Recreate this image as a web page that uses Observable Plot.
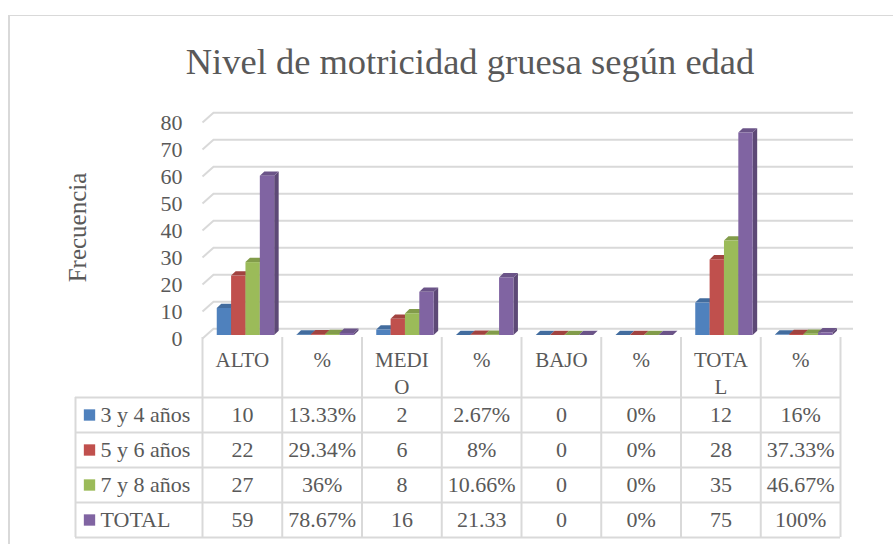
<!DOCTYPE html>
<html><head><meta charset="utf-8">
<script src="https://cdn.jsdelivr.net/npm/d3@7"></script>
<script src="https://cdn.jsdelivr.net/npm/@observablehq/plot@0.6"></script>
<style>
body{margin:0;background:#fff;}
#wrap{position:relative;width:893px;height:544px;overflow:hidden;font-family:"Liberation Serif",serif;color:#595959;background:#fff;}
#frame{position:absolute;left:8px;top:15px;width:1000px;height:1000px;border-left:2px solid #d9d9d9;border-top:1px solid #d9d9d9;}
#title{position:absolute;left:0;width:940px;text-align:center;top:44px;font-size:36.5px;line-height:1;white-space:nowrap;}
#chart{position:absolute;left:0;top:0;}
#table{position:absolute;left:0;top:336px;}
svg{overflow:visible;}
</style></head><body>
<div id="wrap"><div id="frame"></div><div id="title">Nivel de motricidad gruesa según edad</div><div id="chart"></div><div id="table"></div></div>
<script>
// ---- data ----
const categories = ["ALTO", "%", "MEDIO", "%", "BAJO", "%", "TOTAL", "%"];
const categoryLabels = ["ALTO", "%", "MEDI\nO", "%", "BAJO", "%", "TOTA\nL", "%"];
const seriesNames = ["3 y 4 años", "5 y 6 años", "7 y 8 años", "TOTAL"];
const seriesColors = ["#4F81BD", "#C0504D", "#9BBB59", "#8064A2"];
const s34   = [10, 0.1333, 2, 0.0267, 0, 0, 12, 0.16];
const s56   = [22, 0.2934, 6, 0.08, 0, 0, 28, 0.3733];
const s78   = [27, 0.36, 8, 0.1066, 0, 0, 35, 0.4667];
const sTot  = [59, 0.7867, 16, 21.33, 0, 0, 75, 1];
const yTicks = [0, 10, 20, 30, 40, 50, 60, 70, 80];

const series = [s34, s56, s78, sTot];
const FONT = "Liberation Serif";
const GRID = "#d9d9d9";
const TXT = "#595959";

// geometry constants (in scale units)
const PX_X = 638 / 8;          // px per x unit
const PX_Y = 216 / 80;         // px per y unit
const BAR_W = 0.18, BAR_OFF = 0.185;
const DX = 4.5 / PX_X, DY = 4.3 / PX_Y;
const WALL_X = 11 / PX_X;

// ---- derived mark data ----
const fronts = [], faces = [];
categories.forEach((c, i) => {
  series.forEach((s, j) => {
    const v = s[i];
    const x0 = i + BAR_OFF + j * BAR_W, x1 = x0 + BAR_W;
    const base = d3.color(seriesColors[j]);
    fronts.push({x0, x1, v, fill: seriesColors[j]});
    const side = base.darker(0.9).formatHex(), top = base.darker(0.5).formatHex();
    const id = i + "-" + j;
    faces.push({id: "s" + id, x: x1, y1: 0, y2: v, fill: side});
    faces.push({id: "s" + id, x: x1 + DX, y1: DY, y2: v + DY, fill: side});
    faces.push({id: "t" + id, x: x0, y1: v, y2: v, fill: top});
    faces.push({id: "t" + id, x: x0 + DX, y1: v, y2: v + DY, fill: top});
    faces.push({id: "t" + id, x: x1, y1: v, y2: v + DY, fill: top});
    faces.push({id: "t" + id, x: x1 + DX, y1: v + DY, y2: v + DY, fill: top});
  });
});

const chart = Plot.plot({
  width: 893, height: 345,
  marginLeft: 202, marginRight: 53, marginTop: 119, marginBottom: 10,
  x: {domain: [0, 8], axis: null},
  y: {domain: [0, 80], axis: null},
  color: {type: "identity"},
  style: {fontFamily: FONT, color: TXT, background: "transparent", overflow: "visible"},
  marks: [
    Plot.ruleY(yTicks, {x1: WALL_X, x2: 8 + 13 / PX_X, dy: -6.7, stroke: GRID, strokeWidth: 2}),
    Plot.link(yTicks, {x1: 0, x2: WALL_X, y1: d => d, y2: d => d + 9.7 / PX_Y, dy: 3, stroke: GRID, strokeWidth: 2}),
    Plot.area(faces, {x1: "x", y1: "y1", y2: "y2", z: "id", fill: "fill"}),
    Plot.rect(fronts, {x1: "x0", x2: "x1", y1: 0, y2: "v", fill: "fill"}),
    Plot.axisY(yTicks, {tickSize: 0, tickPadding: 20, dy: 3, fontSize: 22, fontFamily: FONT, fill: TXT, label: null}),
    Plot.text(["Frecuencia"], {frameAnchor: "left", textAnchor: "middle", dx: -125, rotate: -90, fontSize: 25, fontFamily: FONT, fill: TXT})
  ]
});
document.getElementById("chart").append(chart);

// ---- data table ----
const HEADER = 60 / 35;
const TOTAL_ROWS = HEADER + seriesNames.length;
const LEG_X = -127 / PX_X;
const fmt = (v, cat) => (cat === "%" && v <= 1) ? d3.format(".2~f")(v * 100) + "%" : String(v);

const cells = [];
series.forEach((s, j) => s.forEach((v, i) => cells.push({i, j, label: fmt(v, categories[i])})));

const table = Plot.plot({
  width: 893, height: 204,
  marginLeft: 202, marginRight: 53, marginTop: 1, marginBottom: 3,
  x: {domain: [0, 8], axis: null},
  y: {domain: [0, TOTAL_ROWS], range: [1, 201], axis: null},
  style: {fontFamily: FONT, color: TXT, background: "transparent", overflow: "visible"},
  marks: [
    Plot.ruleX(d3.range(categories.length + 1), {y1: 0, y2: TOTAL_ROWS, stroke: GRID, strokeWidth: 2}),
    Plot.ruleX([LEG_X], {y1: HEADER, y2: TOTAL_ROWS, stroke: GRID, strokeWidth: 2}),
    Plot.ruleY(d3.range(seriesNames.length + 1).map(k => HEADER + k), {x1: LEG_X, x2: 8, stroke: GRID, strokeWidth: 2}),
    Plot.text(categoryLabels, {x: (d, i) => i + 0.5, y: 10 / 35, lineAnchor: "top", lineHeight: 1.3, fontSize: 21, fontFamily: FONT, fill: TXT}),
    Plot.text(cells, {x: d => d.i + 0.5, y: d => HEADER + d.j + 0.5, text: "label", fontSize: 22, fontFamily: FONT, fill: TXT}),
    Plot.dot(seriesNames, {x: LEG_X, y: (d, j) => HEADER + j + 0.5, dx: 14, symbol: "square", r: 6.4, fill: (d, j) => seriesColors[j], stroke: null}),
    Plot.text(seriesNames, {x: LEG_X, y: (d, j) => HEADER + j + 0.5, dx: 25, textAnchor: "start", fontSize: 22, fontFamily: FONT, fill: TXT})
  ]
});
document.getElementById("table").append(table);
</script>
</body></html>
